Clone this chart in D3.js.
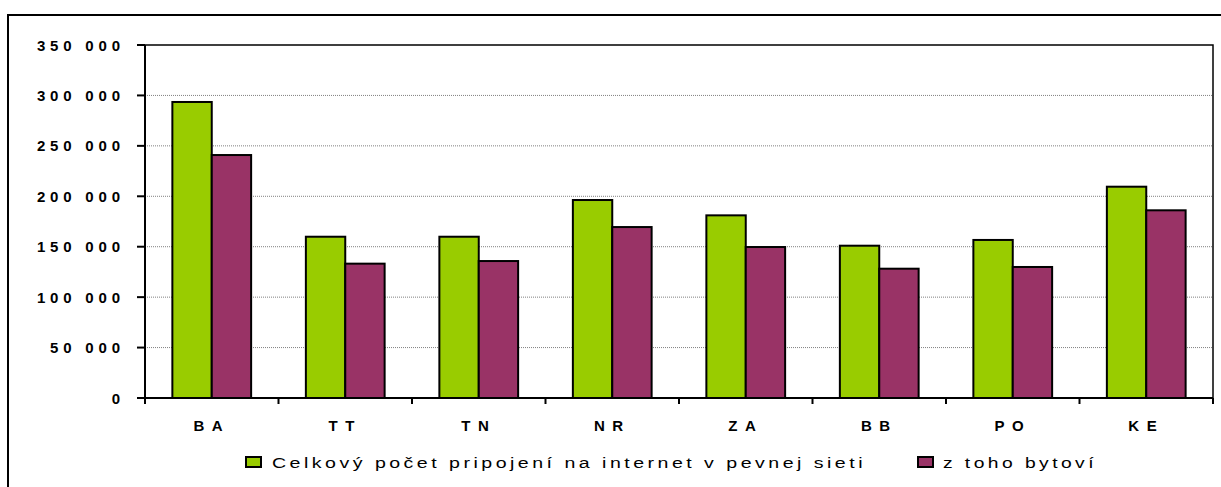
<!DOCTYPE html>
<html><head><meta charset="utf-8">
<script src="https://cdn.jsdelivr.net/npm/d3@7"></script>
<style>
html,body{margin:0;padding:0;background:#fff;}
svg{display:block;font-family:"Liberation Sans",Arial,sans-serif;}
</style></head>
<body><svg id="c" width="1221" height="487"></svg>
<script>
const categories = ["BA","TT","TN","NR","ZA","BB","PO","KE"];
const totalConnections = [293500,159900,159900,196300,181100,151000,156700,209500];
const residential = [240900,133200,135800,169500,149700,128200,129900,186100];
const seriesNames = ["Celkový počet pripojení na internet v pevnej sieti","z toho bytoví"];
const yTicks = [0,50000,100000,150000,200000,250000,300000,350000];
const colors = ["#99CC00","#993366"];

const svg = d3.select("#c");
const L = 145, R = 1213, T = 45, B = 398;

// outer frame
svg.append("rect").attr("x",8).attr("y",15).attr("width",1225).attr("height",490)
  .attr("fill","none").attr("stroke","#000").attr("stroke-width",2);

const x = d3.scaleBand().domain(categories).range([L,R]).padding(0);
const y = d3.scaleLinear().domain([0,350000]).range([B,T]);

// gridlines
svg.append("g").selectAll("line").data(yTicks.filter(d=>d>0 && d<350000)).join("line")
  .attr("x1",L).attr("x2",R).attr("y1",d=>y(d)).attr("y2",d=>y(d))
  .attr("stroke","#808080").attr("stroke-width",1).attr("stroke-dasharray","1,1");

// bars
const bw = x.bandwidth();
const barW = bw*0.295;
const off = (bw - 2*barW)/2;
const series = [totalConnections, residential];
series.forEach((vals,si)=>{
  svg.append("g").selectAll("rect").data(categories).join("rect")
    .attr("x",(c)=>x(c)+off+si*barW)
    .attr("y",(c,i)=>y(vals[i]))
    .attr("width",barW)
    .attr("height",(c,i)=>B-y(vals[i]))
    .attr("fill",colors[si]).attr("stroke","#000").attr("stroke-width",2);
});

// plot border
svg.append("rect").attr("x",L).attr("y",T).attr("width",R-L).attr("height",B-T)
  .attr("fill","none").attr("stroke","#000").attr("stroke-width",1.5);
svg.append("line").attr("x1",L).attr("x2",L).attr("y1",T).attr("y2",B).attr("stroke","#000").attr("stroke-width",2);
svg.append("line").attr("x1",L-8).attr("x2",R).attr("y1",B).attr("y2",B).attr("stroke","#000").attr("stroke-width",2);

// y axis ticks & labels
const yAxis = svg.append("g");
yAxis.selectAll("line").data(yTicks).join("line")
  .attr("x1",L-8).attr("x2",L).attr("y1",d=>y(d)).attr("y2",d=>y(d))
  .attr("stroke","#000").attr("stroke-width",2);
yAxis.selectAll("text").data(yTicks).join("text")
  .attr("x",120+4.8).attr("y",d=>y(d)+5.5)
  .attr("text-anchor","end").attr("font-weight","bold").attr("font-size",15)
  .attr("letter-spacing",4.8).attr("fill","#000")
  .text(d=>d3.format(",")(d).replace(/,/g," "));

// x axis ticks & labels
const bounds = categories.map(c=>x(c)).concat([R]);
svg.append("g").selectAll("line").data(bounds).join("line")
  .attr("x1",d=>d).attr("x2",d=>d).attr("y1",B).attr("y2",B+6)
  .attr("stroke","#000").attr("stroke-width",2);
svg.append("g").selectAll("text").data(categories).join("text")
  .attr("x",c=>x(c)+bw/2).attr("y",431)
  .attr("text-anchor","middle").attr("font-weight","bold").attr("font-size",15)
  .attr("letter-spacing",7.5).attr("fill","#000").text(c=>c);

// legend
const leg = [
  {sx:246, tx:272, tl:594},
  {sx:918, tx:943, tl:154}
];
seriesNames.forEach((n,i)=>{
  const g = svg.append("g");
  g.append("rect").attr("x",leg[i].sx).attr("y",457).attr("width",15).attr("height",10)
    .attr("fill",colors[i]).attr("stroke","#000").attr("stroke-width",2);
  g.append("text").attr("x",leg[i].tx).attr("y",467.5).attr("font-size",14)
    .attr("letter-spacing",2.5)
    .attr("textLength",leg[i].tl).attr("lengthAdjust","spacingAndGlyphs").attr("fill","#000").text(n);
});
</script></body></html>
